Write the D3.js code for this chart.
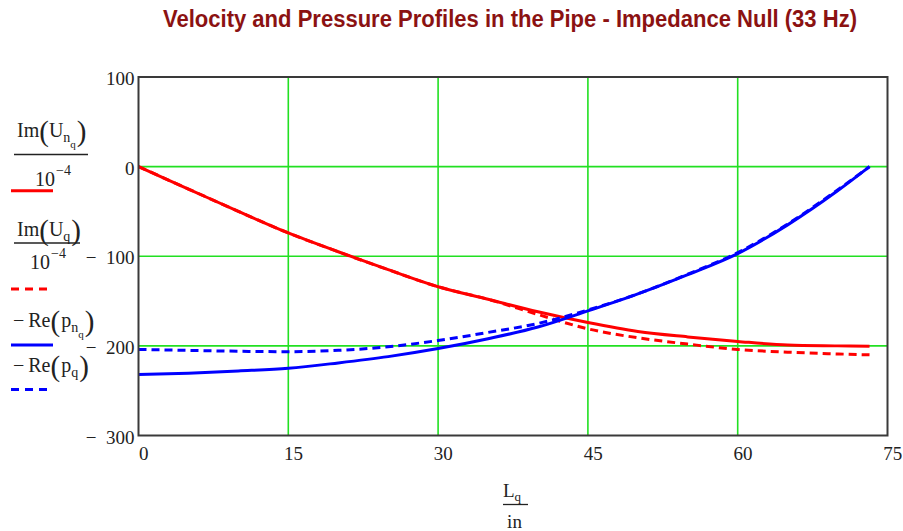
<!DOCTYPE html>
<html><head><meta charset="utf-8">
<script src="https://cdn.jsdelivr.net/npm/d3@7/dist/d3.min.js"></script>
<style>
body{margin:0;background:#fff;}
svg{display:block;}
.serif{font-family:"Liberation Serif","Times New Roman",serif;}
</style></head>
<body>
<svg id="chart" width="903" height="531"></svg>
<script>
// ---- data ----
const titleText = "Velocity and Pressure Profiles in the Pipe - Impedance Null (33 Hz)";
const xTicks = [0, 15, 30, 45, 60, 75];
const yTicks = [100, 0, -100, -200, -300];
const L = [0, 5, 10, 15, 20, 25, 30, 35, 40, 45, 50, 55, 60, 65, 70, 73.2];
const imUnq = [0, -25, -50, -74, -95, -115, -134, -148, -162, -174, -184, -190, -195, -199, -200, -200.5];
const imUq  = [0, -25, -50, -74, -95, -115, -134, -148, -165, -181, -191, -198, -204, -207, -209, -210];
const negRePnq = [-232, -230.5, -228, -225, -219, -212, -203, -192, -179, -161, -142, -120.5, -97, -65, -27, 0];
const negRePq  = [-204, -205, -206, -206.5, -205, -201, -194, -185, -175, -160, -142, -120, -96, -64, -26, 0];

const series = [
  {vals: imUnq, color: "#ff0000", dash: null},
  {vals: imUq, color: "#ff0000", dash: "8,5"},
  {vals: negRePnq, color: "#0000ff", dash: null},
  {vals: negRePq, color: "#0000ff", dash: "8,5"}
];

const svg = d3.select("#chart");
const pL = 138.5, pR = 887.5, pT = 77, pB = 435.5;
const x = d3.scaleLinear().domain([0, 75]).range([pL, pR]);
const y = d3.scaleLinear().domain([-300, 100]).range([pB, pT]);

// title
svg.append("text")
  .attr("x", 510).attr("y", 27)
  .attr("text-anchor", "middle")
  .attr("font-family", "'Liberation Sans', Arial, sans-serif")
  .attr("font-weight", "bold")
  .attr("font-size", 23)
  .attr("fill", "#8b1212")
  .attr("textLength", 694).attr("lengthAdjust", "spacingAndGlyphs")
  .text(titleText);

// grid
const grid = svg.append("g");
grid.selectAll("line.gx").data(xTicks.filter(d => d > 0 && d < 75)).join("line")
  .attr("x1", d => x(d)).attr("x2", d => x(d)).attr("y1", pT).attr("y2", pB)
  .attr("stroke", "#22e022").attr("stroke-width", 1.6);
grid.selectAll("line.gy").data(yTicks.filter(d => d > -300 && d < 100)).join("line")
  .attr("x1", pL).attr("x2", pR).attr("y1", d => y(d)).attr("y2", d => y(d))
  .attr("stroke", "#22e022").attr("stroke-width", 1.6);

// curves
const line = d3.line().x(d => x(d[0])).y(d => y(d[1])).curve(d3.curveMonotoneX);
series.forEach(s => {
  svg.append("path")
    .datum(L.map((l, i) => [l, s.vals[i]]))
    .attr("d", line)
    .attr("fill", "none")
    .attr("stroke", s.color)
    .attr("stroke-width", 3)
    .attr("stroke-dasharray", s.dash);
});

// frame
svg.append("rect").attr("x", pL).attr("y", pT).attr("width", pR - pL).attr("height", pB - pT)
  .attr("fill", "none").attr("stroke", "#3a3a3a").attr("stroke-width", 2);

// axes (labels only)
const fmt = d => d < 0 ? "\u2212\u2002" + Math.abs(d) : String(d);
const yAxis = svg.append("g").attr("transform", `translate(${pL},0)`)
  .call(d3.axisLeft(y).tickValues(yTicks).tickSize(0).tickPadding(4).tickFormat(fmt));
yAxis.select(".domain").remove();
yAxis.selectAll("text").attr("font-family", "'Liberation Serif', serif").attr("font-size", 19)
  .attr("fill", "#222").attr("dy", "0.4em");

const xAxis = svg.append("g").attr("transform", `translate(0,${pB})`)
  .call(d3.axisBottom(x).tickValues(xTicks).tickSize(0).tickPadding(11).tickFormat(d => String(d)));
xAxis.select(".domain").remove();
xAxis.selectAll("text").attr("font-family", "'Liberation Serif', serif").attr("font-size", 19)
  .attr("fill", "#222").attr("dx", "0.25em");

// helper: math-like text built from tspans; each part: [text, size, baselineOffset, dx]
function mathText(g, xp, yp, parts) {
  const t = g.append("text").attr("x", xp).attr("y", yp);
  let cur = 0;
  parts.forEach(([s, size, off, dx]) => {
    t.append("tspan").attr("font-size", size).attr("dy", off - cur).attr("dx", dx || 0).text(s);
    cur = off;
  });
  return t;
}

// x axis label  L_q / in
const xl = svg.append("g").attr("class", "serif").attr("fill", "#222");
mathText(xl, 503, 497, [["L", 19, 0], ["q", 13, 4]]);
xl.append("line").attr("x1", 503).attr("x2", 528).attr("y1", 504.5).attr("y2", 504.5).attr("stroke", "#222").attr("stroke-width", 1.3);
xl.append("text").attr("x", 514.5).attr("y", 528).attr("text-anchor", "middle").attr("font-size", 19).text("in");

// legend
const lg = svg.append("g").attr("class", "serif").attr("fill", "#222");
// 1: Im(U_{n_q}) / 10^-4
mathText(lg, 17, 137, [["Im", 20, 0], ["(", 29, 4, 0], ["U", 20, 0, 0], ["n", 14, 5], ["q", 11, 11], [")", 29, 4, 1]]);
lg.append("line").attr("x1", 14).attr("x2", 88).attr("y1", 154.5).attr("y2", 154.5).attr("stroke", "#222").attr("stroke-width", 1.3);
mathText(lg, 35, 186, [["10", 20, 0], ["\u22124", 14, -11, 1]]);
// 2: Im(U_q) / 10^-4
mathText(lg, 17, 236, [["Im", 20, 0], ["(", 29, 4, 0], ["U", 20, 0, 0], ["q", 14, 5], [")", 29, 4, 1]]);
lg.append("line").attr("x1", 14).attr("x2", 80).attr("y1", 243).attr("y2", 243).attr("stroke", "#222").attr("stroke-width", 1.3);
mathText(lg, 30, 269, [["10", 20, 0], ["\u22124", 14, -11, 1]]);
// 3: − Re(p_{n_q})
mathText(lg, 13, 327, [["\u2212\u2009Re", 20, 0], ["(", 29, 4, 0], ["p", 20, 0, 1], ["n", 14, 5], ["q", 11, 11], [")", 29, 4, 1]]);
// 4: − Re(p_q)
mathText(lg, 13, 372, [["\u2212\u2009Re", 20, 0], ["(", 29, 4, 0], ["p", 20, 0, 1], ["q", 14, 5], [")", 29, 4, 1]]);

// legend line samples
const legLines = [
  {yy: 190.7, s: series[0]}, {yy: 289, s: series[1]}, {yy: 345, s: series[2]}, {yy: 389.5, s: series[3]}
];
legLines.forEach(d => {
  svg.append("line").attr("x1", 11).attr("x2", 53).attr("y1", d.yy).attr("y2", d.yy)
    .attr("stroke", d.s.color).attr("stroke-width", 3).attr("stroke-dasharray", d.s.dash ? "8,6" : null);
});
</script>
</body></html>
